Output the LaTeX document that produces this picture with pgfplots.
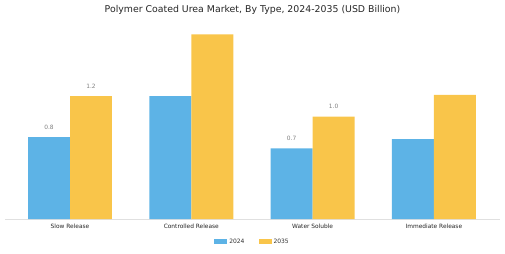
\documentclass[border=0pt]{standalone}
\usepackage{pgfplots}
\pgfplotsset{compat=1.18}
\usepackage{fontspec}
\setmainfont{DejaVu Sans}
\definecolor{cblue}{RGB}{93,179,230}
\definecolor{cyel}{RGB}{249,197,74}
\begin{document}
\begin{tikzpicture}[x=1bp,y=1bp]
\useasboundingbox (0,0) rectangle (505,253);
\node[font=\fontsize{9.4}{11}\selectfont, text=black!85] at (252.5,243) {Polymer Coated Urea Market, By Type, 2024-2035 (USD Billion)};
\begin{axis}[
  at={(5bp,34bp)}, anchor=south west,
  scale only axis, width=495bp, height=205bp,
  xmin=-0.536, xmax=3.545, ymin=0, ymax=2,
  axis x line=bottom, axis y line=none,
  x axis line style={black!12, -, line width=0.8pt},
  xtick={0,1,2,3},
  xticklabels={Slow Release, Controlled Release, Water Soluble, Immediate Release},
  major tick length=0pt,
  ytick=\empty,
  xticklabel style={font=\fontsize{5.9}{7}\selectfont, text=black!85, yshift=-1.5bp},
  /pgf/number format/assume math mode=true,
  legend style={at={(0.5,-0.112)}, anchor=center, draw=none, legend columns=2,
    font=\fontsize{6}{7}\selectfont, text=black!80,
    /tikz/every even column/.append style={column sep=12bp}},
  legend image code/.code={\fill (0bp,-2.5bp) rectangle (13bp,2.5bp);},
  nodes near coords style={font=\fontsize{5.9}{7}\selectfont, text=black!50},
]
\addplot[ybar, bar width=0.346, bar shift=-0.173, fill=cblue, draw=none] coordinates {(0,0.8) (1,1.2) (2,0.69) (3,0.78)};
\addlegendentry{2024}
\addplot[ybar, bar width=0.346, bar shift=0.173, fill=cyel, draw=none] coordinates {(0,1.2) (1,1.8) (2,1.0) (3,1.21)};
\addlegendentry{2035}
\addplot[only marks, mark=none, forget plot,
  nodes near coords, point meta=y,
  every node near coord/.append style={anchor=south, xshift=-21bp, yshift=4bp, /pgf/number format/.cd, fixed, fixed zerofill, precision=1}]
  coordinates {(0,0.8) (2,0.69)};
\addplot[only marks, mark=none, forget plot,
  nodes near coords, point meta=y,
  every node near coord/.append style={anchor=south, xshift=21bp, yshift=4bp, /pgf/number format/.cd, fixed, fixed zerofill, precision=1}]
  coordinates {(0,1.2) (2,1.0)};
\end{axis}
\end{tikzpicture}
\end{document}
